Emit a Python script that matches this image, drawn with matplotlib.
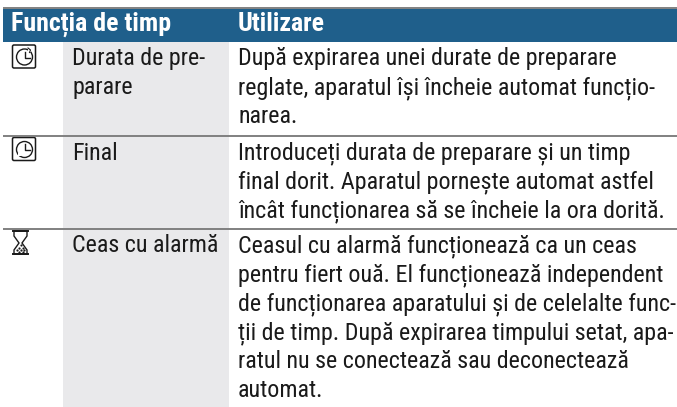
import matplotlib
matplotlib.use('Agg')
import matplotlib.pyplot as plt
from matplotlib.patches import Rectangle, FancyBboxPatch, Circle, Polygon

coloane = ['Funcția de timp', 'Utilizare']
functii = [['Durata de pre-', 'parare'], ['Final'], ['Ceas cu alarmă']]
utilizari = [
    ['După expirarea unei durate de preparare',
     'reglate, aparatul își încheie automat funcțio-',
     'narea.'],
    ['Introduceți durata de preparare și un timp',
     'final dorit. Aparatul pornește automat astfel',
     'încât funcționarea să se încheie la ora dorită.'],
    ['Ceasul cu alarmă funcționează ca un ceas',
     'pentru fiert ouă. El funcționează independent',
     'de funcționarea aparatului și de celelalte func-',
     'ții de timp. După expirarea timpului setat, apa-',
     'ratul nu se conectează sau deconectează',
     'automat.'],
]

font = 'Roboto Condensed'
marime = 17.3

fig = plt.figure(figsize=(6.77, 4.07), dpi=100)
ax = fig.add_axes([0, 0, 1, 1])
ax.set_xlim(0, 677)
ax.set_ylim(407, 0)
ax.axis('off')

albastru = '#1f5f8b'
gri = '#e9e9eb'
linie = '#808080'
negru = '#1a1a1a'

ax.add_patch(Rectangle((63, 41), 166, 366, color=gri, lw=0))
ax.add_patch(Rectangle((3, 8.5), 674, 33, color=albastru, lw=0))
for y in [7.5, 135.5, 229]:
    ax.plot([3, 677], [y, y], color=linie, lw=1.4, solid_capstyle='butt')

ax.text(11, 31, coloane[0], family=font, weight='bold', size=18.6, color='white')
ax.text(238, 31, coloane[1], family=font, weight='bold', size=18.6, color='white')

pas = 29
start = [65, 159.5, 252]
for i in range(3):
    for j, t in enumerate(functii[i]):
        ax.text(72, start[i] + j * pas, t, family=font, weight=400, size=marime, color=negru)
    for j, t in enumerate(utilizari[i]):
        ax.text(238, start[i] + j * pas, t, family=font, weight=400, size=marime, color=negru)


def ceas(y, final):
    ax.add_patch(FancyBboxPatch((12.5, y), 23, 23, boxstyle='round,pad=0,rounding_size=1.5',
                                fc='white', ec=negru, lw=1.1))
    ax.add_patch(Circle((24.5, y + 12), 8, fc='none', ec=negru, lw=1))
    ax.plot([24.5, 24.5, 29.5], [y + 6.5, y + 12.5, y + 12.5], color=negru, lw=1)
    if final:
        ax.add_patch(Rectangle((17.5, y + 15.5), 3, 3, fc='white', ec='none'))
    else:
        ax.add_patch(Rectangle((27.5, y + 3.5), 3, 3, fc='white', ec='none'))
        ax.plot([28, 30.5, 29.5], [y + 3, y + 5, y + 7.5], color=negru, lw=0.8)


ceas(45, False)
ceas(137.5, True)

# clepsidra
ax.plot([12.5, 28], [231, 231], color=negru, lw=1.4)
ax.plot([12.5, 28], [254, 254], color=negru, lw=1.4)
ax.add_patch(Polygon([(14, 231), (27, 231), (27, 236), (22, 243), (27, 250), (27, 254),
                      (14, 254), (14, 250), (19, 243), (14, 236)], fc='white', ec=negru, lw=1))
puncte_x = [20.5, 18.5, 22.5, 17, 20.5, 24, 18.5, 22.5]
puncte_y = [245, 247.5, 247.5, 250, 250, 250, 252, 252]
ax.scatter(puncte_x, puncte_y, s=2.5, color=negru, lw=0)

fig.savefig('out.png', dpi=100)
